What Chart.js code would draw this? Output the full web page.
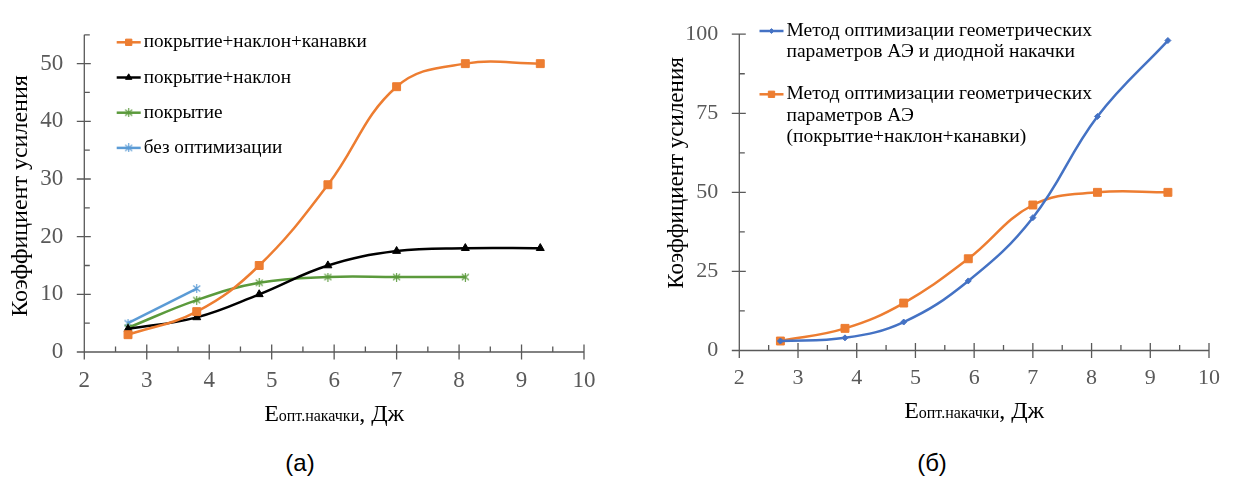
<!DOCTYPE html>
<html>
<head>
<meta charset="utf-8">
<script src="https://cdn.jsdelivr.net/npm/chart.js@4.4.1/dist/chart.umd.min.js"></script>
<style>
  html, body { margin: 0; padding: 0; background: #fff; }
  #page { position: relative; width: 1235px; height: 490px; overflow: hidden; background: #fff; }
  .panel { position: absolute; top: 0; width: 615px; height: 440px; }
  .caption { position: absolute; top: 449px; font-family: "Liberation Sans", Arial, sans-serif;
             font-size: 24px; color: #000; transform: translateX(-50%); white-space: nowrap; }
  .fontprime { position: absolute; left: -9999px; top: 0; font-family: "Liberation Serif"; font-size: 20px; }
</style>
</head>
<body>
<div id="page">
  <div class="panel" style="left:0"><canvas id="chartA" width="615" height="440"></canvas></div>
  <div class="panel" style="left:620px"><canvas id="chartB" width="615" height="440"></canvas></div>
  <div class="caption" style="left:300px">(а)</div>
  <div class="caption" style="left:932px">(б)</div>
</div>
<span class="fontprime">Коэффициент 0123456789</span>
<script>
// Pump energy, J
const energyJ = [2.7, 3.8, 4.8, 5.9, 7.0, 8.1, 9.3];

// Gain coefficient per optimisation variant
const gainCoatTiltGrooves = [3, 7, 15, 29, 46, 50, 50];
const gainCoatTilt        = [4, 6, 10, 15, 17.5, 18, 18];
const gainCoat            = [4.2, 9, 12, 13, 13, 13];
const gainNone            = [5, 11];
const gainDiodePump       = [3, 4, 9, 22, 42, 74, 98];

// Axis tick labels
const xTicks  = [2, 3, 4, 5, 6, 7, 8, 9, 10];
const yTicksA = [0, 10, 20, 30, 40, 50];
const yTicksB = [0, 25, 50, 75, 100];

// Legend texts
const seriesNamesA = ['покрытие+наклон+канавки', 'покрытие+наклон', 'покрытие', 'без оптимизации'];
const seriesNamesB = [
  ['Метод оптимизации геометрических', 'параметров АЭ и диодной накачки'],
  ['Метод оптимизации геометрических', 'параметров АЭ', '(покрытие+наклон+канавки)']
];
const yTitle = 'Коэффициент усиления';
const xTitleParts = [['E', 'big'], ['опт.накачки', 'small'], [', Дж', 'big']];

const SERIF = "'Liberation Serif', 'DejaVu Serif', serif";
const ORANGE = '#ED7D31', BLACK = '#000000', GREEN = '#5B9A3C', LIGHTBLUE = '#5B9BD5', BLUE = '#4472C4';

function pairs(values) {
  return values.map((v, i) => ({ x: energyJ[i], y: v }));
}

// asterisk marker: diagonal cross with a vertical bar
function asteriskMarker(color) {
  const c = document.createElement('canvas');
  c.width = 9; c.height = 9;
  const g = c.getContext('2d');
  g.strokeStyle = color; g.lineWidth = 1.1;
  g.beginPath();
  g.moveTo(1, 1.5); g.lineTo(8, 7.5);
  g.moveTo(8, 1.5); g.lineTo(1, 7.5);
  g.moveTo(4.5, 0); g.lineTo(4.5, 9);
  g.stroke();
  return c;
}

function series(label, values, color, style, radius) {
  return {
    label, data: pairs(values),
    borderColor: color, backgroundColor: color,
    borderWidth: 2.5, tension: 0.4, cubicInterpolationMode: 'default',
    pointStyle: style, pointRadius: radius, pointBorderWidth: 1,
    pointBackgroundColor: color, pointBorderColor: color, fill: false
  };
}

// axis lines with crossing major ticks and inside minor ticks
const axisFrame = {
  id: 'axisFrame',
  beforeDatasetsDraw(chart, args, o) {
    const { ctx, scales: { x, y } } = chart;
    const X = v => x.getPixelForValue(v), Y = v => y.getPixelForValue(v);
    const x0 = X(x.min), x1 = X(x.max), y0 = Y(y.min), y1 = Y(y.max);
    ctx.save();
    ctx.strokeStyle = o.color; ctx.lineWidth = o.width;
    ctx.beginPath();
    ctx.moveTo(x0, y1); ctx.lineTo(x0, y0 + o.major);
    ctx.moveTo(x0 - o.major, y0); ctx.lineTo(x1, y0);
    x.ticks.forEach(t => { const p = X(t.value); ctx.moveTo(p, y0 - o.major); ctx.lineTo(p, y0 + o.major); });
    for (let v = x.min + o.xMinor; v < x.max; v += o.xMinor * 2) {
      const p = X(v); ctx.moveTo(p, y0); ctx.lineTo(p, y0 - o.minor);
    }
    y.ticks.forEach(t => { const p = Y(t.value); ctx.moveTo(x0 - o.major, p); ctx.lineTo(x0 + o.major - 1, p); });
    for (let v = y.min + o.yMinor; v <= y.max + 1e-9; v += o.yMinor * 2) {
      const p = Y(v); ctx.moveTo(x0, p); ctx.lineTo(x0 + o.minor, p);
    }
    ctx.stroke();
    ctx.restore();
  }
};

// axis titles: rotated y title, x title with a smaller subscript part
const axisTitles = {
  id: 'axisTitles',
  afterDraw(chart, args, o) {
    const { ctx, scales: { x } } = chart;
    ctx.save();
    ctx.fillStyle = '#000';
    ctx.translate(o.yX, o.yY);
    ctx.rotate(-Math.PI / 2);
    ctx.font = o.ySize + 'px ' + SERIF;
    ctx.textAlign = 'center'; ctx.textBaseline = 'middle';
    ctx.fillText(yTitle, 0, 0);
    ctx.restore();

    ctx.save();
    ctx.fillStyle = '#000'; ctx.textBaseline = 'alphabetic'; ctx.textAlign = 'left';
    const fontOf = k => (k === 'big' ? o.bigSize : o.smallSize) + 'px ' + SERIF;
    let total = 0;
    xTitleParts.forEach(([t, k]) => { ctx.font = fontOf(k); total += ctx.measureText(t).width; });
    let cx = (x.getPixelForValue(x.min) + x.getPixelForValue(x.max)) / 2 - total / 2;
    xTitleParts.forEach(([t, k]) => { ctx.font = fontOf(k); ctx.fillText(t, cx, o.xBase); cx += ctx.measureText(t).width; });
    ctx.restore();
  }
};

// legend inside the plot area; an entry may span several lines
const seriesKey = {
  id: 'seriesKey',
  afterDraw(chart, args, o) {
    const { ctx } = chart;
    ctx.save();
    ctx.font = o.size + 'px ' + SERIF;
    ctx.textBaseline = 'middle'; ctx.textAlign = 'left';
    let yy = o.y;
    o.order.forEach((di, n) => {
      const ds = chart.data.datasets[di];
      const lines = o.names[n];
      ctx.strokeStyle = ds.borderColor; ctx.fillStyle = ds.borderColor; ctx.lineWidth = 2.5;
      ctx.beginPath(); ctx.moveTo(o.x, yy); ctx.lineTo(o.x + o.lineLen, yy); ctx.stroke();
      ctx.lineWidth = 1;
      Chart.helpers.drawPoint(ctx, {
        pointStyle: ds.pointStyle, radius: ds.pointRadius * o.markScale, rotation: 0, borderWidth: 1
      }, o.x + o.lineLen / 2, yy);
      ctx.fillStyle = '#000';
      lines.forEach((t, k) => ctx.fillText(t, o.x + o.lineLen + o.gap, yy + k * o.lineH));
      yy += (lines.length - 1) * o.lineH + o.rowGap;
    });
    ctx.restore();
  }
};

function scalesFor(cfg) {
  return {
    x: {
      type: 'linear', min: 2, max: 10,
      grid: { display: false, drawTicks: false }, border: { display: false },
      afterBuildTicks: s => { s.ticks = xTicks.map(v => ({ value: v })); },
      afterFit: s => { s.height = cfg.xAxisHeight; },
      ticks: { font: { family: SERIF, size: cfg.tickSize }, color: '#595959', padding: cfg.xPad, maxRotation: 0, autoSkip: false }
    },
    y: {
      type: 'linear', min: 0, max: cfg.yMax,
      grid: { display: false, drawTicks: false }, border: { display: false },
      afterBuildTicks: s => { s.ticks = cfg.yTicks.map(v => ({ value: v })); },
      afterFit: s => { s.width = cfg.yAxisWidth; },
      ticks: { font: { family: SERIF, size: cfg.tickSize }, color: '#595959', padding: 21, autoSkip: false }
    }
  };
}

Chart.register(axisFrame, axisTitles, seriesKey);
Chart.defaults.font.family = SERIF;

function build() {
  new Chart(document.getElementById('chartA'), {
    type: 'line',
    data: {
      datasets: [
        series(seriesNamesA[0], gainCoatTiltGrooves, ORANGE, 'rect', 5.6),
        series(seriesNamesA[1], gainCoatTilt, BLACK, 'triangle', 4.6),
        series(seriesNamesA[2], gainCoat, GREEN, asteriskMarker(GREEN), 5),
        series(seriesNamesA[3], gainNone, LIGHTBLUE, asteriskMarker(LIGHTBLUE), 5)
      ]
    },
    options: {
      responsive: false, animation: false, devicePixelRatio: 1,
      layout: { padding: { left: 0, top: 29.4, right: 31, bottom: 0 } },
      scales: scalesFor({ xAxisHeight: 88, yAxisWidth: 84.3, yMax: 55, yTicks: yTicksA, tickSize: 23, xPad: 15 }),
      plugins: {
        legend: { display: false }, tooltip: { enabled: false },
        axisFrame: { color: '#595959', width: 1.3, major: 7.5, minor: 5.5, xMinor: 0.5, yMinor: 5 },
        axisTitles: { yX: 21, yY: 196, ySize: 24, bigSize: 24, smallSize: 16, xBase: 421 },
        seriesKey: { x: 116.7, y: 42.3, lineLen: 24, gap: 3, size: 19.2, lineH: 21.3, rowGap: 35.2, markScale: 0.8,
                     order: [0, 1, 2, 3], names: seriesNamesA.map(s => [s]) }
      }
    }
  });

  new Chart(document.getElementById('chartB'), {
    type: 'line',
    data: {
      datasets: [
        series(seriesNamesB[0].join(' '), gainDiodePump, BLUE, 'rectRot', 3),
        series(seriesNamesB[1].join(' '), gainCoatTiltGrooves, ORANGE, 'rect', 5.6)
      ]
    },
    options: {
      responsive: false, animation: false, devicePixelRatio: 1,
      layout: { padding: { left: 0, top: 23.3, right: 13, bottom: 0 } },
      scales: scalesFor({ xAxisHeight: 89.5, yAxisWidth: 119.3, yMax: 100, yTicks: yTicksB, tickSize: 22, xPad: 15 }),
      plugins: {
        legend: { display: false }, tooltip: { enabled: false },
        axisFrame: { color: '#595959', width: 1.3, major: 7.5, minor: 5.5, xMinor: 0.5, yMinor: 12.5 },
        axisTitles: { yX: 56.7, yY: 173, ySize: 23, bigSize: 24, smallSize: 16, xBase: 418 },
        seriesKey: { x: 139.5, y: 31, lineLen: 24, gap: 3, size: 19.5, lineH: 21.3, rowGap: 42, markScale: 0.8,
                     order: [0, 1], names: seriesNamesB }
      }
    }
  });
}

if (document.fonts && document.fonts.load) {
  document.fonts.load("20px 'Liberation Serif'").then(build, build);
} else {
  build();
}
</script>
</body>
</html>
